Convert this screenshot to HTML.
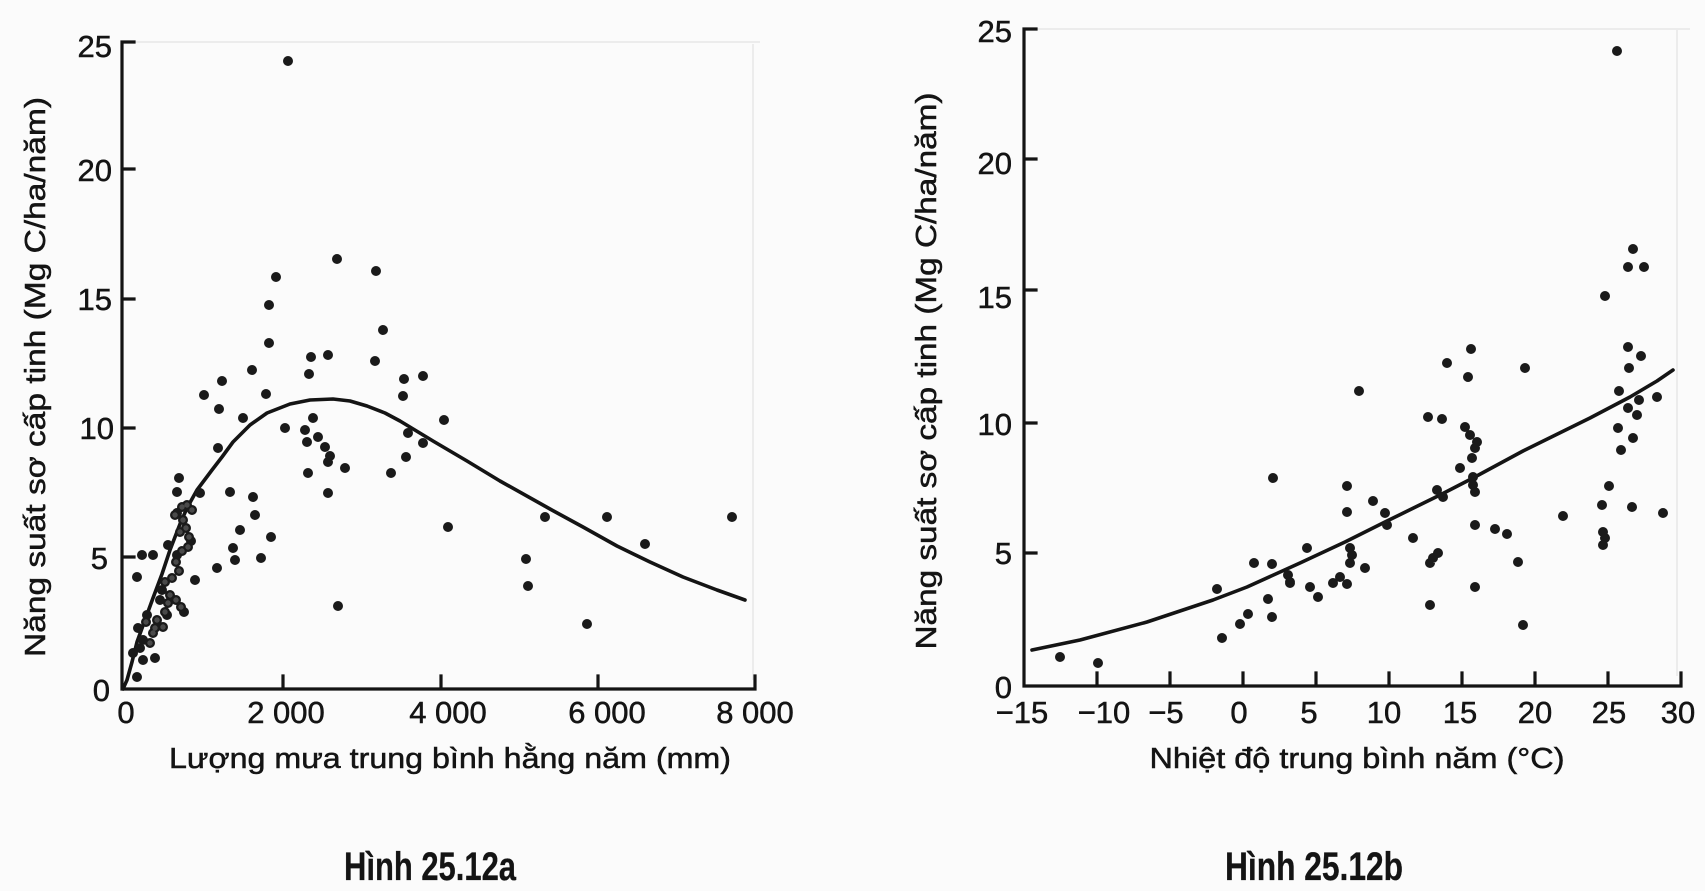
<!DOCTYPE html>
<html>
<head>
<meta charset="utf-8">
<style>
  html,body{margin:0;padding:0;background:#fbfbfb;}
  svg{display:block;}
  text{font-family:"Liberation Sans","DejaVu Sans",sans-serif;fill:#141414;stroke:#141414;stroke-width:0.5px;}
  .tk{font-size:31px;}
  .tt{font-size:29px;}
  .cap{font-size:40px;font-weight:bold;stroke-width:0.3px;}
  .ax{stroke:#141414;stroke-width:3.2;fill:none;stroke-linecap:square;}
  .cv{fill:none;stroke:#141414;stroke-width:3.6;stroke-linejoin:round;stroke-linecap:round;}
  .dot{fill:none;stroke:#1a1a1a;stroke-width:10;stroke-linecap:round;}
  .cl{fill:none;stroke:#4a4a4a;stroke-width:5.4;stroke-linecap:round;}
  .faint{stroke:#ececec;stroke-width:2;fill:none;}
</style>
</head>
<body>
<svg width="1705" height="891" viewBox="0 0 1705 891" xmlns="http://www.w3.org/2000/svg">
<rect x="0" y="0" width="1705" height="891" fill="#fbfbfb"/>
<path class="faint" d="M134,42H760M753,44V680M1036,29H1690M1677,30V676"/>

<path class="ax" d="M122,42V689H755M122,42H134M122,169H134M122,299H134M122,428H134M122,557H134M283,689V676M441,689V676M598,689V676M755,689V676"/>
<path class="cv" d="M123,689L127,680L132,662L137,642L145,620L153,598L162,574L170,550L180,524L187,508L197,490L212,470L222,457L233,442L250,425L267,413L290,404L310,400L333,399L350,401L367,406L385,413L400,421L433,441L467,461L500,481L550,509L583,527L617,546L650,562L683,577L717,590L745,600"/>
<path class="dot" d="M288,61h0M337,259h0M376,271h0M276,277h0M269,305h0M383,330h0M269,343h0M328,355h0M311,357h0M375,361h0M252,370h0M222,381h0M309,374h0M404,379h0M423,376h0M204,395h0M266,394h0M403,396h0M219,409h0M243,418h0M313,418h0M285,428h0M444,420h0M305,430h0M307,442h0M318,437h0M325,447h0M330,456h0M218,448h0M408,433h0M423,443h0M406,457h0M328,462h0M308,473h0M345,468h0M391,473h0M328,493h0M200,493h0M230,492h0M253,497h0M179,478h0M177,492h0M255,515h0M448,527h0M240,530h0M271,537h0M168,545h0M233,548h0M235,560h0M261,558h0M217,568h0M195,580h0M142,555h0M153,555h0M137,577h0M338,606h0M138,628h0M133,653h0M143,660h0M155,658h0M137,677h0M545,517h0M607,517h0M732,517h0M645,544h0M526,559h0M528,586h0M587,624h0"/>
<path class="dot" d="M175,515h0M182,507h0M187,505h0M192,510h0M177,513h0M183,520h0M186,528h0M180,532h0M189,537h0M188,547h0M182,551h0M177,555h0M191,541h0M176,562h0M179,571h0M172,578h0M165,582h0M162,590h0M170,595h0M176,600h0M181,607h0M184,612h0M168,603h0M160,600h0M165,612h0M157,620h0M163,627h0M167,615h0M153,633h0M147,615h0M143,640h0M150,643h0M155,628h0M140,648h0M146,622h0"/>
<path class="cl" d="M175,515h0M182,507h0M187,505h0M192,510h0M183,520h0M186,528h0M180,532h0M189,537h0M188,547h0M182,551h0M176,562h0M179,571h0M172,578h0M165,582h0M170,595h0M176,600h0M181,607h0M168,603h0M165,612h0M157,620h0M163,627h0M153,633h0M150,643h0M155,628h0M146,622h0"/>

<g class="tk" text-anchor="end">
<text x="112" y="57">25</text>
<text x="112" y="181">20</text>
<text x="112" y="310">15</text>
<text x="114" y="439">10</text>
<text x="108" y="569">5</text>
<text x="110" y="701">0</text>
</g>
<g class="tk" text-anchor="middle">
<text x="126" y="723">0</text>
<text x="286" y="723">2 000</text>
<text x="448" y="723">4 000</text>
<text x="607" y="723">6 000</text>
<text x="755" y="723">8 000</text>
</g>
<text class="tt" x="450" y="768" text-anchor="middle" textLength="562" lengthAdjust="spacingAndGlyphs">Lượng mưa trung bình hằng năm (mm)</text>
<text class="tt" transform="translate(45,377) rotate(-90)" text-anchor="middle" textLength="560" lengthAdjust="spacingAndGlyphs">Năng suất sơ cấp tinh (Mg C/ha/năm)</text>
<text class="cap" x="430" y="880" text-anchor="middle" textLength="172" lengthAdjust="spacingAndGlyphs">Hình 25.12a</text>

<path class="ax" d="M1024,29V686H1681M1024,29H1036M1024,159H1036M1024,290H1036M1024,423H1036M1024,553H1036M1097,686V673M1170,686V673M1243,686V673M1316,686V673M1389,686V673M1462,686V673M1535,686V673M1608,686V673M1681,686V673"/>
<path class="cv" d="M1032,650L1080,640L1147,622L1213,600L1247,587L1300,563L1345,542L1387,521L1440,495L1473,478L1523,451L1590,418L1630,397L1657,381L1673,370"/>
<path class="dot" d="M1060,657h0M1098,663h0M1273,478h0M1217,589h0M1254,563h0M1272,564h0M1288,575h0M1290,583h0M1268,599h0M1248,614h0M1240,624h0M1272,617h0M1222,638h0M1617,51h0M1633,249h0M1628,267h0M1644,267h0M1605,296h0M1471,349h0M1447,363h0M1468,377h0M1525,368h0M1628,347h0M1641,356h0M1629,368h0M1359,391h0M1619,391h0M1657,397h0M1639,400h0M1628,408h0M1637,415h0M1428,417h0M1442,419h0M1618,428h0M1633,438h0M1621,450h0M1465,427h0M1470,435h0M1477,442h0M1475,448h0M1472,458h0M1460,468h0M1473,477h0M1473,485h0M1475,492h0M1437,490h0M1443,497h0M1347,486h0M1373,501h0M1347,512h0M1385,513h0M1387,525h0M1609,486h0M1602,505h0M1632,507h0M1563,516h0M1663,513h0M1475,525h0M1495,529h0M1507,534h0M1413,538h0M1603,532h0M1605,538h0M1603,545h0M1307,548h0M1350,548h0M1352,555h0M1350,563h0M1438,553h0M1433,558h0M1430,563h0M1365,568h0M1518,562h0M1333,583h0M1340,577h0M1347,584h0M1310,587h0M1318,597h0M1290,582h0M1475,587h0M1430,605h0M1523,625h0"/>

<g class="tk" text-anchor="end">
<text x="1012" y="42">25</text>
<text x="1012" y="174">20</text>
<text x="1012" y="308">15</text>
<text x="1012" y="435">10</text>
<text x="1012" y="564">5</text>
<text x="1012" y="698">0</text>
</g>
<g class="tk" text-anchor="middle">
<text x="1022" y="723">−15</text>
<text x="1104" y="723">−10</text>
<text x="1166" y="723">−5</text>
<text x="1239" y="723">0</text>
<text x="1309" y="723">5</text>
<text x="1384" y="723">10</text>
<text x="1460" y="723">15</text>
<text x="1535" y="723">20</text>
<text x="1609" y="723">25</text>
<text x="1678" y="723">30</text>
</g>
<text class="tt" x="1357" y="768" text-anchor="middle" textLength="415" lengthAdjust="spacingAndGlyphs">Nhiệt độ trung bình năm (°C)</text>
<text class="tt" transform="translate(936,371) rotate(-90)" text-anchor="middle" textLength="557" lengthAdjust="spacingAndGlyphs">Năng suất sơ cấp tinh (Mg C/ha/năm)</text>
<text class="cap" x="1314" y="880" text-anchor="middle" textLength="178" lengthAdjust="spacingAndGlyphs">Hình 25.12b</text>
</svg>
</body>
</html>
